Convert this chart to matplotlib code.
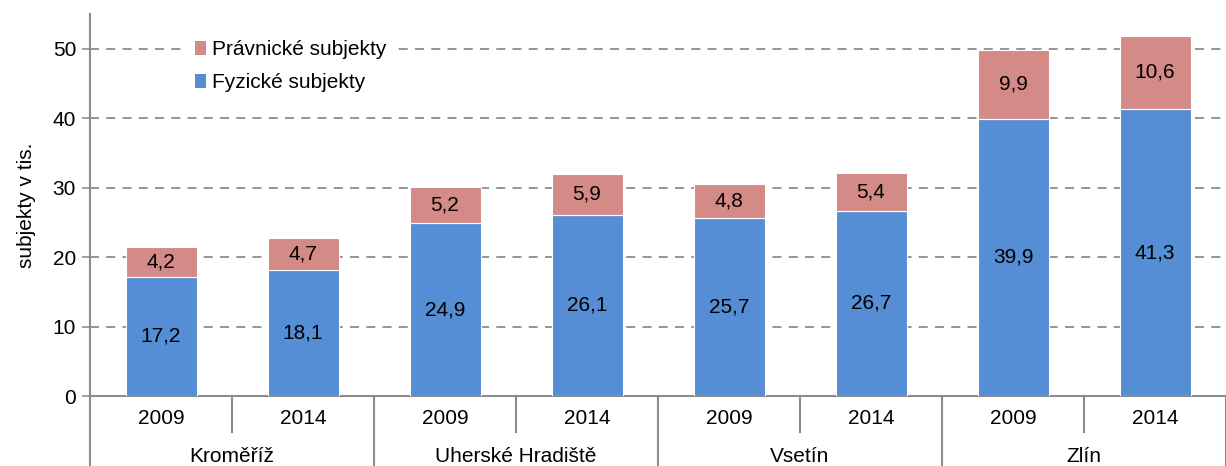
import numpy as np
import matplotlib.pyplot as plt
from matplotlib.patches import Patch
from matplotlib.transforms import blended_transform_factory

plt.rcParams['font.family'] = ['Liberation Sans', 'DejaVu Sans']

regions = ['Kroměříž', 'Uherské Hradiště', 'Vsetín', 'Zlín']
years = ['2009', '2014']
fyzicke = [17.2, 18.1, 24.9, 26.1, 25.7, 26.7, 39.9, 41.3]
pravnicke = [4.2, 4.7, 5.2, 5.9, 4.8, 5.4, 9.9, 10.6]

blue = '#558ED5'
pink = '#D48A86'
axis_gray = '#8C8C8C'
fs = 15

fig = plt.figure(figsize=(12.26, 4.66), dpi=100)
ax = fig.add_axes([90 / 1226, 70 / 466, 1136 / 1226, 382 / 466])

x = np.arange(len(fyzicke))
ax.bar(x, fyzicke, width=0.5, color=blue, edgecolor='white', linewidth=0.8, zorder=3)
ax.bar(x, pravnicke, width=0.5, bottom=fyzicke, color=pink, edgecolor='white', linewidth=0.8, zorder=3)

for xi, f, p in zip(x, fyzicke, pravnicke):
    ax.text(xi, f / 2, f'{f:.1f}'.replace('.', ','), ha='center', va='center', fontsize=fs, zorder=4)
    ax.text(xi, f + p / 2, f'{p:.1f}'.replace('.', ','), ha='center', va='center', fontsize=fs, zorder=4)

ax.set_xlim(-0.5, len(fyzicke) - 0.5)
ax.set_ylim(0, 55)
ax.set_yticks(range(0, 51, 10))
ax.yaxis.grid(True, linestyle=(0, (5, 4)), color=axis_gray, linewidth=1.3, zorder=0)
ax.tick_params(axis='y', labelsize=fs, length=6, width=1.2, color=axis_gray, pad=4)
ax.set_ylabel('subjekty v tis.', fontsize=fs, labelpad=12)

for s in ['top', 'right']:
    ax.spines[s].set_visible(False)
for s in ['left', 'bottom']:
    ax.spines[s].set_color(axis_gray)
    ax.spines[s].set_linewidth(1.5)

# two-level category axis
ax.set_xticks([])
trans = blended_transform_factory(ax.transData, ax.transAxes)
ax_h = 382.0
for xi in x:
    ax.text(xi, -23 / ax_h, years[xi % 2], transform=trans, ha='center', va='center', fontsize=fs)
for i, r in enumerate(regions):
    ax.text(2 * i + 0.5, -60 / ax_h, r, transform=trans, ha='center', va='center', fontsize=fs)
for b in np.arange(-0.5, len(fyzicke), 1.0):
    idx = int(b + 0.5)
    low = -36 / ax_h if idx % 2 == 1 else -70 / ax_h
    ax.plot([b, b], [0, low], transform=trans, color=axis_gray, linewidth=1.5, clip_on=False)

handles = [Patch(facecolor=pink, label='Právnické subjekty'),
           Patch(facecolor=blue, label='Fyzické subjekty')]
leg = ax.legend(handles=handles, loc='upper left', bbox_to_anchor=(0.076, 0.98), fontsize=fs,
                frameon=True, fancybox=False, edgecolor='white', facecolor='white', framealpha=1,
                handlelength=0.5, handleheight=0.65, handletextpad=0.3, labelspacing=0.65,
                borderpad=0.4)
leg.set_zorder(5)

fig.savefig('out.png', dpi=100)
